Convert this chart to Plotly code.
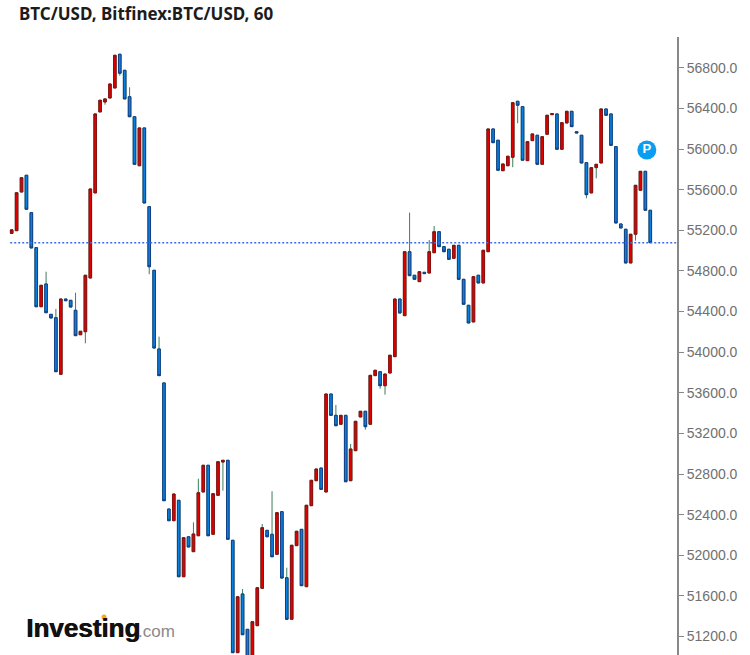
import plotly.graph_objects as go

# Hourly BTC/USD candles, prices
opens = [55170,55197,55578,55743,55375,55030,54448,54672,54373,54340,53782,54524,54511,54413,54172,54202,
54731,55569,56367,56465,56504,56603,56935,56777,56517,56320,55837,56209,55434,54807,54032,53697,52455,52340,
52541,51788,52182,52035,52192,52623,52886,52206,52590,52918,52935,52147,51040,51618,51270,50968,51306,51674,
52245,52206,52009,52429,51778,51369,52094,52255,51690,52488,52734,52859,52623,53588,53378,53290,53378,52734,
53030,53362,53418,53290,53769,53808,53670,53795,53956,54524,54360,54990,54758,54695,54787,54780,54980,55187,
55040,55014,54925,55053,54718,54462,54298,54758,54682,54990,56199,56088,55788,55837,55920,56472,56419,55887,
56084,56137,55851,56147,56340,56347,55999,56258,56373,56172,56137,55867,55569,55818,55864,56396,56347,56025,
55263,55211,54879,55162,55595,55782,55398]
closes = [55205,55571,55719,55408,55027,54448,54659,54389,54337,53808,54524,54507,54445,54163,54206,54758,
55608,56347,56482,56495,56642,56925,56748,56495,56320,55851,56209,55470,54842,54041,53769,52537,52340,52603,
51788,52173,52081,52209,52616,52886,52192,52606,52921,52935,52157,51040,51591,51217,50968,51345,51680,52271,
52182,51985,52419,51775,51369,52098,52236,51700,52492,52738,52849,52649,53588,53378,53276,53378,52724,53046,
53319,53418,53266,53772,53822,53670,53785,53970,54524,54386,54990,54754,54718,54793,54774,54990,55187,55040,
54990,54915,55053,54718,54472,54288,54744,54682,55004,56199,56064,55792,55854,55930,56458,56433,55891,56074,
56150,55851,56123,56334,56350,55999,56261,56373,56222,56160,55864,55552,55818,55851,56396,56334,56038,55273,
55224,54879,55162,55644,55782,55398,55079]

# Wicks that reach beyond the candle body: candle number -> price
upper_wicks = {7:54793,9:54426,13:54586,24:56610,30:54153,37:52324,38:52754,47:51667,51:52308,53:52630,
56:51877,66:53480,69:53096,81:55375,85:55105,86:55243}
lower_wicks = {15:54088,19:56438,22:56724,28:54768,43:52636,72:53237,75:53640,76:53581,102:55822,103:56255,
117:55516,119:55713,127:55099}

last_price = 55079
pivot_price = 55992
pivot_candle = 129.3
tick_values = [51200 + 400*k for k in range(15)]
title_text = "BTC/USD, Bitfinex:BTC/USD, 60"

candles = list(range(len(opens)))
body_tops = [max(o, c) for o, c in zip(opens, closes)]
body_bottoms = [min(o, c) for o, c in zip(opens, closes)]
highs = [upper_wicks.get(i, t) for i, t in enumerate(body_tops)]
lows = [lower_wicks.get(i, b) for i, b in enumerate(body_bottoms)]

W, H = 750, 655
ML, MR, MT, MB = 0, 73, 37, 0
PW, PH = W - ML - MR, H - MT - MB
fig = go.Figure()
# green wicks underneath
fig.add_trace(go.Candlestick(
    x=candles, open=opens, high=highs, low=lows, close=closes,
    increasing=dict(line=dict(color="#3f7d5c", width=1), fillcolor="rgba(0,0,0,0)"),
    decreasing=dict(line=dict(color="#3f7d5c", width=1), fillcolor="rgba(0,0,0,0)"),
    hoverinfo="skip", showlegend=False))
# bodies on top
fig.add_trace(go.Candlestick(
    x=candles, open=opens, high=body_tops, low=body_bottoms, close=closes,
    increasing=dict(line=dict(color="#8a1010", width=1), fillcolor="#e00000"),
    decreasing=dict(line=dict(color="#123f86", width=1), fillcolor="#0a7fe0"),
    showlegend=False))
fig.add_trace(go.Scatter(
    x=[pivot_candle], y=[pivot_price], mode="markers+text", text=["P"],
    textposition="middle center",
    textfont=dict(family="Liberation Sans", size=13, color="white", weight="bold"),
    marker=dict(size=19, color="#0a9df2"), hoverinfo="skip", showlegend=False))

fig.add_shape(type="line", xref="x", yref="y", x0=-0.3, x1=135.44, y0=last_price, y1=last_price,
              line=dict(color="#3f6fe8", width=1.5, dash="2px,2px"))

def px(x, y):
    return (x - ML) / PW, 1 - (y - MT) / PH

tx, ty = px(18, 13)
fig.add_annotation(xref="paper", yref="paper", x=tx, y=ty, xanchor="left", yanchor="middle", showarrow=False,
                   xshift=-1, text="<b>" + title_text + "</b>", font=dict(family="Noto Sans", size=17, color="#1c1c1c"))
lx, ly = px(24, 628)
fig.add_annotation(xref="paper", yref="paper", x=lx, y=ly, xanchor="left", yanchor="middle", showarrow=False,
                   text="<b>Investing</b>",
                   font=dict(family="Liberation Sans", size=26, color="#111111", shadow="0.7px 0 0 #111111"))
cx, cy = px(136, 631)
fig.add_annotation(xref="paper", yref="paper", x=cx, y=cy, xanchor="left", yanchor="middle", showarrow=False,
                   text=".com", font=dict(family="Liberation Sans", size=17, color="#8a8a8a"))
d0 = px(101.5, 614.5)
d1 = px(106.5, 619.5)
fig.add_shape(type="circle", xref="paper", yref="paper", x0=d0[0], y0=d1[1], x1=d1[0], y1=d0[1],
              fillcolor="#f7a81b", line=dict(width=0))

fig.update_layout(
    width=W, height=H, autosize=False,
    margin=dict(l=ML, r=MR, t=MT, b=MB, pad=0),
    paper_bgcolor="white", plot_bgcolor="white",
    boxmode="overlay", boxgap=0.25,
    showlegend=False,
    xaxis=dict(range=[-2.38, 135.44], visible=False, rangeslider=dict(visible=False), fixedrange=True),
    yaxis=dict(range=[51017, 57105], side="right", tickvals=tick_values, tickformat=".1f",
               ticks="outside", ticklen=5, tickwidth=1, tickcolor="#888888",
               showline=True, linecolor="#888888", linewidth=2, showgrid=False, zeroline=False,
               tickfont=dict(family="Liberation Sans", size=14, color="#707070")),
)
fig.write_html("out.html", config=dict(displayModeBar=False),
               post_script="document.body.style.margin='0';document.body.style.overflow='hidden';")
